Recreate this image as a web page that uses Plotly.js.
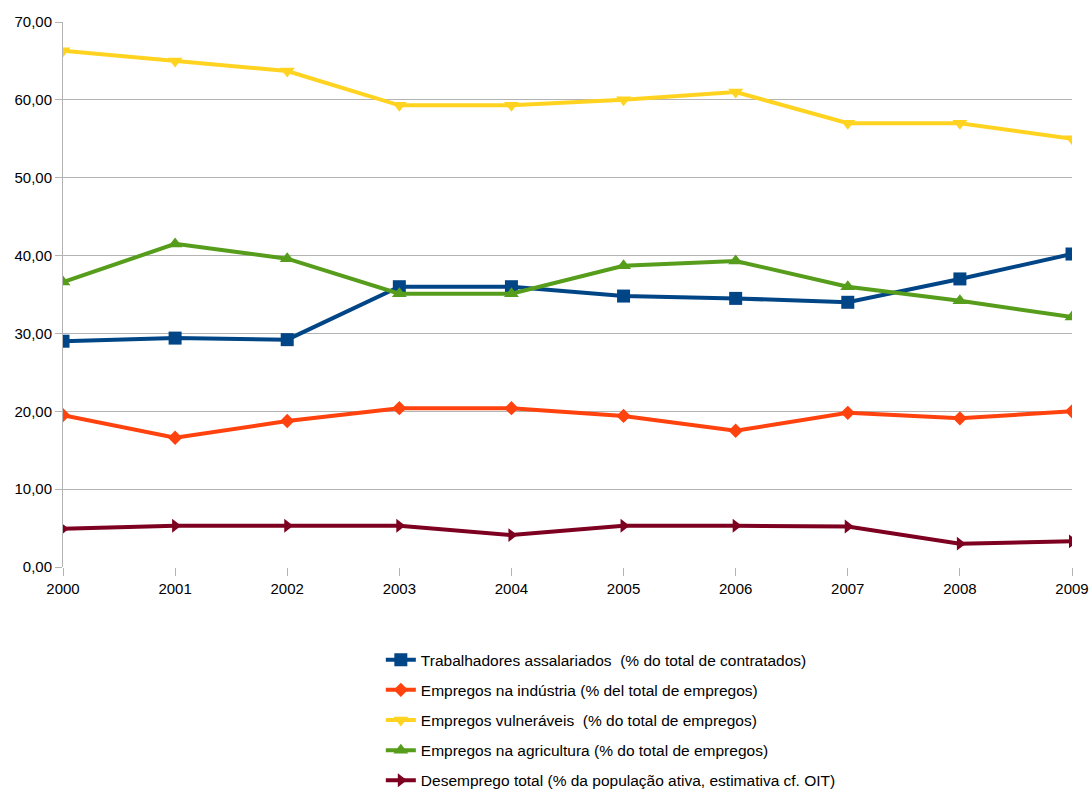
<!DOCTYPE html>
<html><head><meta charset="utf-8">
<script src="https://cdn.plot.ly/plotly-3.0.1.min.js"></script>
<style>body{margin:0;background:#fff}#c{width:1091px;height:792px}</style>
</head><body><div id="c"></div>
<script>
const years = [2000,2001,2002,2003,2004,2005,2006,2007,2008,2009];
const assalariados = [29.0,29.4,29.2,36.0,36.0,34.8,34.5,34.0,37.0,40.2];
const industria = [19.5,16.6,18.75,20.4,20.4,19.4,17.5,19.8,19.1,20.0];
const vulneraveis = [66.3,65.0,63.7,59.3,59.3,60.0,61.0,57.0,57.0,55.0];
const agricultura = [36.6,41.5,39.6,35.1,35.1,38.7,39.3,36.0,34.2,32.1];
const desemprego = [4.9,5.3,5.3,5.3,4.1,5.3,5.3,5.2,3.0,3.3];
const names = [
  "Trabalhadores assalariados  (% do total de contratados)",
  "Empregos na indústria (% del total de empregos)",
  "Empregos vulneráveis  (% do total de empregos)",
  "Empregos na agricultura (% do total de empregos)",
  "Desemprego total (% da população ativa, estimativa cf. OIT)"
];
const series = [assalariados, industria, vulneraveis, agricultura, desemprego];
const colors = ["#004586","#ff420e","#ffd320","#579d1c","#7e0021"];
const symbols = ["square","diamond","triangle-down","triangle-up","triangle-right"];
const sizes = [13,11,13,13,12];
const traces = series.map((s,i)=>({
  x: years, y: s, name: names[i], type:'scatter', mode:'lines+markers',
  legendgroup: 'g'+i,
  line:{color:colors[i], width:4},
  marker:{color:colors[i], symbol:symbols[i], size:sizes[i]}
}));
const layout = {
  width:1091, height:792,
  margin:{l:63, r:19, t:22, b:225, autoexpand:false},
  paper_bgcolor:'#fff', plot_bgcolor:'#fff',
  separators:',.',
  font:{family:'Liberation Sans, Arial, sans-serif', size:15, color:'#000'},
  showlegend:true,
  legend:{x:0.315, y:0.188, yref:'container', xanchor:'left', yanchor:'top', orientation:'v',
    font:{size:15.5, color:'#000'}, tracegroupgap:7, bgcolor:'rgba(0,0,0,0)'},
  xaxis:{range:[2000,2009], tickmode:'array', tickvals:years, ticktext:years.map(String),
    showgrid:false, zeroline:false, showline:false,
    ticks:'outside', ticklen:8, tickcolor:'#b3b3b3', tickfont:{size:15}},
  yaxis:{range:[0,70], dtick:10, tickformat:'.2f', showgrid:true, gridcolor:'#b3b3b3',
    zeroline:false, showline:true, linecolor:'#b3b3b3', linewidth:1,
    ticks:'outside', ticklen:7, tickcolor:'#b3b3b3', tickfont:{size:15}}
};
Plotly.newPlot('c', traces, layout, {displayModeBar:false, staticPlot:true});
</script></body></html>
